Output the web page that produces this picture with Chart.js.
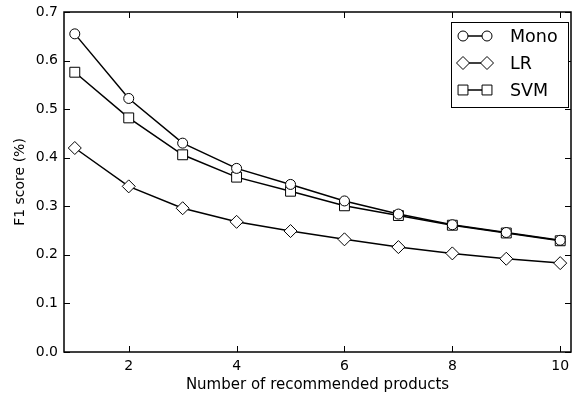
<!DOCTYPE html>
<html>
<head>
<meta charset="utf-8">
<script src="https://cdn.jsdelivr.net/npm/chart.js@4/dist/chart.umd.min.js"></script>
<style>
	html, body { margin: 0; padding: 0; background: #fff; }
	#wrap { position: relative; width: 573px; height: 401px; }
</style>
</head>
<body>
<div id="wrap"><canvas id="c"></canvas></div>
<script>
// values
const ks = [1, 2, 3, 4, 5, 6, 7, 8, 9, 10];
const mono = [0.655, 0.522, 0.430, 0.378, 0.345, 0.311, 0.284, 0.262, 0.246, 0.230];
const lr = [0.420, 0.341, 0.296, 0.268, 0.249, 0.232, 0.216, 0.203, 0.192, 0.183];
const svm = [0.576, 0.482, 0.406, 0.360, 0.331, 0.301, 0.281, 0.261, 0.245, 0.229];
const xTicks = [2, 4, 6, 8, 10];
const yTicks = [0, 0.1, 0.2, 0.3, 0.4, 0.5, 0.6, 0.7];

const FONT = "'DejaVu Sans', sans-serif";

function toPoints(values) {
	return ks.map((k, i) => ({x: k, y: values[i]}));
}

function makeSet(label, values, pointStyle, radius) {
	return {
		label,
		data: toPoints(values),
		borderColor: '#000',
		borderWidth: 1.5,
		pointStyle,
		pointRadius: radius,
		pointHoverRadius: radius,
		pointBackgroundColor: '#fff',
		pointBorderColor: '#000',
		pointBorderWidth: 1,
		tension: 0,
		fill: false,
	};
}

function drawMarker(ctx, style, x, y, r) {
	ctx.beginPath();
	if (style === 'circle') {
		ctx.arc(x, y, r, 0, Math.PI * 2);
	} else if (style === 'rect') {
		let h = r * Math.SQRT1_2;
		ctx.rect(x - h, y - h, h * 2, h * 2);
	} else {
		ctx.moveTo(x, y - r);
		ctx.lineTo(x + r, y);
		ctx.lineTo(x, y + r);
		ctx.lineTo(x - r, y);
		ctx.closePath();
	}
	ctx.fillStyle = '#fff';
	ctx.fill();
	ctx.lineWidth = 1;
	ctx.strokeStyle = '#000';
	ctx.stroke();
}

// matplotlib-like frame with inward ticks on all four sides, plus the boxed legend
const frameAndLegend = {
	id: 'frameAndLegend',
	afterDraw(chart) {
		let {ctx, chartArea: a, scales: {x, y}} = chart;
		ctx.save();
		ctx.strokeStyle = '#000';
		ctx.lineWidth = 1.5;
		ctx.strokeRect(a.left, a.top, a.right - a.left, a.bottom - a.top);
		ctx.lineWidth = 1;
		let len = 6;
		ctx.beginPath();
		x.ticks.forEach(t => {
			let px = Math.round(x.getPixelForValue(t.value)) + 0.5;
			ctx.moveTo(px, a.bottom); ctx.lineTo(px, a.bottom - len);
			ctx.moveTo(px, a.top); ctx.lineTo(px, a.top + len);
		});
		y.ticks.forEach(t => {
			let py = Math.round(y.getPixelForValue(t.value)) + 0.5;
			ctx.moveTo(a.left, py); ctx.lineTo(a.left + len, py);
			ctx.moveTo(a.right, py); ctx.lineTo(a.right - len, py);
		});
		ctx.stroke();

		// legend
		let bw = 117, bh = 85;
		let bx = a.right - 3 - bw, by = a.top + 10;
		ctx.fillStyle = '#fff';
		ctx.fillRect(bx, by, bw, bh);
		ctx.lineWidth = 1;
		ctx.strokeStyle = '#000';
		ctx.strokeRect(bx + 0.5, by + 0.5, bw, bh);
		chart.data.datasets.forEach((ds, i) => {
			let cy = by + 14 + i * 27;
			let x0 = bx + 12, x1 = bx + 36;
			ctx.beginPath();
			ctx.moveTo(x0, cy); ctx.lineTo(x1, cy);
			ctx.lineWidth = 1.5;
			ctx.strokeStyle = '#000';
			ctx.stroke();
			drawMarker(ctx, ds.pointStyle, x0, cy, ds.pointRadius);
			drawMarker(ctx, ds.pointStyle, x1, cy, ds.pointRadius);
			ctx.fillStyle = '#000';
			ctx.font = '17.5px ' + FONT;
			ctx.textBaseline = 'middle';
			ctx.textAlign = 'left';
			ctx.fillText(ds.label, bx + 59, cy + 1);
		});
		ctx.restore();
	},
};

new Chart(document.getElementById('c'), {
	type: 'line',
	data: {
		datasets: [
			makeSet('Mono', mono, 'circle', 5),
			makeSet('LR', lr, 'rectRot', 6.5),
			makeSet('SVM', svm, 'rect', 7),
		],
	},
	options: {
		responsive: true,
		maintainAspectRatio: false,
		animation: false,
		layout: {autoPadding: false, padding: {top: 12, right: 2, left: 0, bottom: 0}},
		plugins: {legend: {display: false}, tooltip: {enabled: false}},
		scales: {
			x: {
				type: 'linear',
				min: 0.8,
				max: 10.2,
				afterBuildTicks: s => { s.ticks = xTicks.map(v => ({value: v})); },
				afterFit: s => { s.height = 49; s.paddingLeft = 0; s.paddingRight = 0; },
				grid: {display: false, drawTicks: false},
				border: {display: false},
				ticks: {color: '#000', font: {family: FONT, size: 14}, padding: 6, callback: v => String(v)},
				title: {display: true, text: 'Number of recommended products', color: '#000', font: {family: FONT, size: 15}, padding: {top: 4, bottom: 7}},
			},
			y: {
				type: 'linear',
				min: 0,
				max: 0.7,
				afterBuildTicks: s => { s.ticks = yTicks.map(v => ({value: v})); },
				afterFit: s => { s.width = 64; s.paddingTop = 0; s.paddingBottom = 0; },
				grid: {display: false, drawTicks: false},
				border: {display: false},
				ticks: {color: '#000', font: {family: FONT, size: 14}, padding: 6, callback: v => Number(v).toFixed(1)},
				title: {display: true, text: 'F1 score (%)', color: '#000', font: {family: FONT, size: 14}, padding: {top: 12, bottom: 4}},
			},
		},
	},
	plugins: [frameAndLegend],
});
</script>
</body>
</html>
